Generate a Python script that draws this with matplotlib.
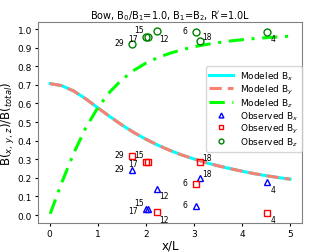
import matplotlib
matplotlib.use('Agg')
import matplotlib.pyplot as plt

# modeled curves
x_model = [0.01, 0.25, 0.5, 0.75, 1.0, 1.25, 1.5, 1.75, 2.0, 2.25, 2.5,
           2.75, 3.0, 3.25, 3.5, 3.75, 4.0, 4.25, 4.5, 4.75, 5.0]
bx_model = [0.707, 0.696, 0.667, 0.625, 0.577, 0.530, 0.485, 0.444, 0.408,
            0.376, 0.348, 0.323, 0.302, 0.282, 0.265, 0.250, 0.236, 0.223,
            0.212, 0.202, 0.193]
by_model = bx_model
bz_model = [0.007, 0.174, 0.333, 0.469, 0.577, 0.662, 0.728, 0.778, 0.817,
            0.847, 0.870, 0.889, 0.905, 0.917, 0.927, 0.936, 0.943, 0.949,
            0.954, 0.958, 0.962]

# observed events
events = ['29', '17', '15', '12', '6', '18', '4']
x_obs = [1.71, 2.00, 2.04, 2.24, 3.04, 3.12, 4.53]
bx_obs = [0.241, 0.031, 0.031, 0.142, 0.049, 0.199, 0.177]
by_obs = [0.316, 0.283, 0.286, 0.016, 0.166, 0.286, 0.013]
bz_obs = [0.918, 0.958, 0.958, 0.989, 0.983, 0.936, 0.985]

# label offsets (points) per event
offs = {'29': (-9, 1), '17': (-9, -1), '15': (-6, 5), '12': (5, -5),
        '6': (-8, 1), '18': (5, 3), '4': (4, -5)}

plt.rcParams['font.size'] = 6.5
fig = plt.figure(figsize=(3.13, 2.53), dpi=100)
ax = fig.add_axes([0.122, 0.115, 0.843, 0.794])

ax.plot(x_model, bx_model, color='aqua', lw=2.2, label='Modeled B$_x$')
ax.plot(x_model, by_model, color='salmon', lw=2.2, ls=(0, (4, 2)), label='Modeled B$_y$')
ax.plot(x_model, bz_model, color='lime', lw=2.2, ls=(0, (5, 2.5, 1, 2.5)), label='Modeled B$_z$')

ax.plot(x_obs, bx_obs, '^', mfc='none', mec='blue', ms=5, mew=1, ls='none', label='Observed B$_x$')
ax.plot(x_obs, by_obs, 's', mfc='none', mec='red', ms=5, mew=1, ls='none', label='Observed B$_y$')
ax.plot(x_obs, bz_obs, 'o', mfc='none', mec='green', ms=5, mew=1, ls='none', label='Observed B$_z$')

for ys in (bx_obs, by_obs, bz_obs):
    for ev, xv, yv in zip(events, x_obs, ys):
        dx, dy = offs[ev]
        ax.annotate(ev, (xv, yv), xytext=(dx, dy), textcoords='offset points',
                    ha='center', va='center', fontsize=5.5)

ax.set_xticks([0, 1, 2, 3, 4, 5])
ax.set_yticks([0.0, 0.1, 0.2, 0.3, 0.4, 0.5, 0.6, 0.7, 0.8, 0.9, 1.0])
ax.set_xlabel('x/L', fontsize=8.5, labelpad=0)
ax.set_ylabel('B($_{x,\\,y,\\,z}$)/B($_{total}$)', fontsize=8.5, labelpad=0.5)
ax.set_title("Bow, B$_0$/B$_1$=1.0, B$_1$=B$_2$, R$'$=1.0L", fontsize=7, pad=3)
ax.tick_params(labelsize=6.5, length=2.5, pad=2)
for s in ax.spines.values():
    s.set_color('gray')
ax.legend(loc='upper right', bbox_to_anchor=(1.0, 0.781), fontsize=6.5,
          markerscale=0.7, handlelength=2.6, borderaxespad=0.0,
          labelspacing=0.05, borderpad=0.4)

fig.savefig('out.png', dpi=100)
